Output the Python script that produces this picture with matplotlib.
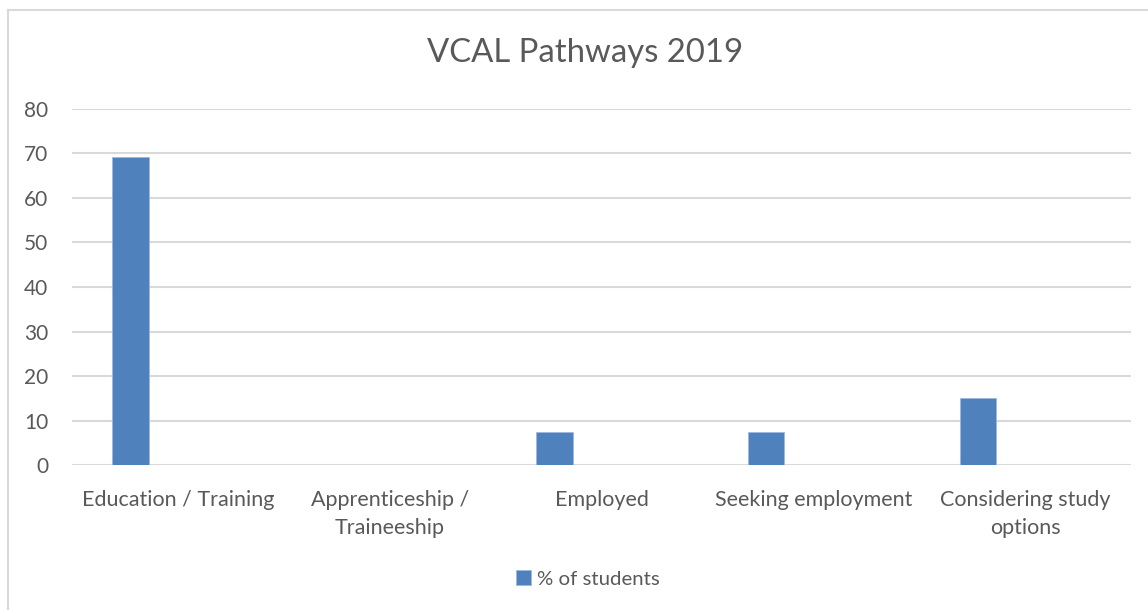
import matplotlib
matplotlib.use("Agg")
import matplotlib.pyplot as plt
import numpy as np

categories = ["Education / Training", "Apprenticeship /\nTraineeship", "Employed",
              "Seeking employment", "Considering study\noptions"]
pct_students = [69.2, 0, 7.5, 7.5, 15]
series_name = "% of students"
title = "VCAL Pathways 2019"
yticks = [0, 10, 20, 30, 40, 50, 60, 70, 80]

plt.rcParams['font.family'] = ['Lato', 'DejaVu Sans']
txt = '#595959'
grid = '#d9d9d9'
blue = '#4f81bd'

fig = plt.figure(figsize=(11.48, 6.10), dpi=100)
W, H = 1148, 610
ax = fig.add_axes([72 / W, (H - 465.3) / H, (1131 - 72) / W, (465.3 - 108.7) / H])

x = np.arange(len(categories))
ax.bar(x - 0.223, pct_students, width=0.173, color=blue, edgecolor='#9db8dc',
       linewidth=0.6, zorder=3, label=series_name)
ax.set_xlim(-0.5, len(categories) - 0.5)
ax.set_ylim(0, 80)
ax.set_yticks(yticks)
ax.set_yticklabels([str(v) for v in yticks])
ax.set_xticks(x)
ax.set_xticklabels(categories, linespacing=1.45)
ax.tick_params(axis='y', length=0, pad=17, labelsize=15, labelcolor=txt)
ax.tick_params(axis='x', length=0, pad=18, labelsize=15.5, labelcolor=txt)
for s in ax.spines.values():
    s.set_visible(False)
ax.grid(axis='y', color=grid, linewidth=1.5, zorder=0)
ax.set_axisbelow(True)

fig.text(585 / W, 1 - 53 / H, title, ha='center', va='center', fontsize=23.7, color=txt)

leg = fig.legend(loc='center', bbox_to_anchor=(588 / W, 1 - 579 / H), frameon=False,
                 fontsize=14.7, handlelength=0.72, handleheight=0.72, handletextpad=0.3,
                 labelcolor=txt)

# outer chart border
fig.add_artist(plt.Line2D([7.5 / W, 7.5 / W], [0, 1 - 10 / H], transform=fig.transFigure,
                          color=grid, linewidth=1.5))
fig.add_artist(plt.Line2D([7.5 / W, 1], [1 - 10 / H, 1 - 10 / H], transform=fig.transFigure,
                          color=grid, linewidth=1.5))

fig.savefig("out.png", dpi=100, facecolor='white')
